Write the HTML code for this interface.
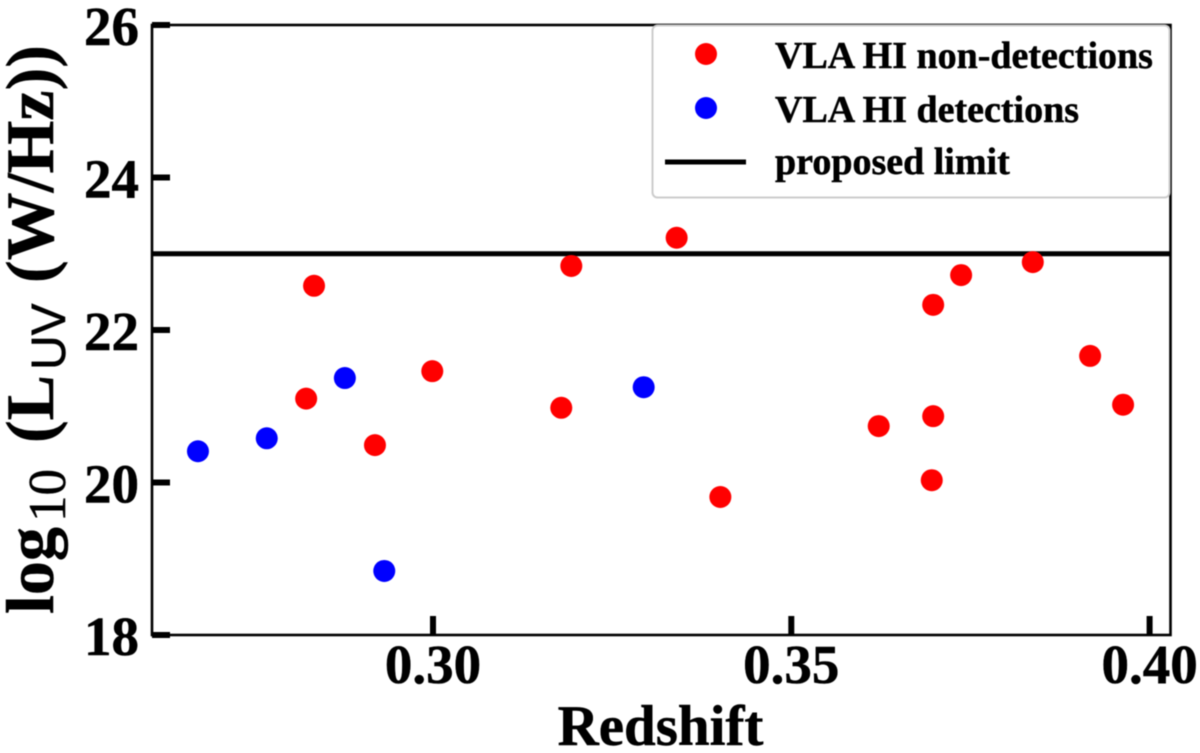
<!DOCTYPE html>
<html>
<head>
<meta charset="utf-8">
<title>Redshift vs UV luminosity</title>
<style>
html,body{margin:0;padding:0;background:#fff;width:1200px;height:753px;overflow:hidden}
svg{display:block;filter:blur(0.4px)}
text{font-family:"Liberation Serif",serif;font-weight:bold;fill:#000;stroke:#000;stroke-width:0.5px}
</style>
</head>
<body>
<svg id="chart" width="1200" height="753" viewBox="0 0 1200 753" xmlns="http://www.w3.org/2000/svg">
  <rect x="0" y="0" width="1200" height="753" fill="#fff"/>
  <g id="limit"></g>
  <g id="spines" stroke="#000" stroke-width="2.6" fill="none">
    <rect x="152" y="25" width="1018.5" height="610"/>
  </g>
  <g id="ticks"></g>
  <g id="points"></g>
  <text x="660.5" y="745" font-size="57" text-anchor="middle">Redshift</text>
  <text transform="translate(53,614) rotate(-90)" font-size="68">
    <tspan x="0">log</tspan><tspan x="92" y="12" font-size="53" style="font-weight:normal">10</tspan><tspan x="171" y="0">(L</tspan><tspan x="244" y="12" font-size="48" style="font-family:'Liberation Sans',sans-serif;font-weight:normal">UV</tspan><tspan x="331" y="0">(W/Hz))</tspan>
  </text>
  <g>
    <rect x="652.5" y="25.5" width="517" height="172" rx="5" ry="5" fill="#fff" fill-opacity="0.85" stroke="#ccc" stroke-width="2"/>
    <circle cx="706" cy="54" r="11" fill="#ff0000"/>
    <text x="775" y="68" font-size="38">VLA HI non-detections</text>
    <circle cx="706" cy="108" r="11" fill="#0000ff"/>
    <text x="775" y="122" font-size="38">VLA HI detections</text>
    <line x1="665" y1="162" x2="746" y2="162" stroke="#000" stroke-width="5"/>
    <text x="775" y="174" font-size="38">proposed limit</text>
  </g>
</svg>
<script>
const xTickValues = [0.30, 0.35, 0.40];
const xTickLabels = ["0.30", "0.35", "0.40"];
const yTickValues = [18, 20, 22, 24, 26];
const yTickLabels = ["18", "20", "22", "24", "26"];
const limitValue = 23;
const nonDetectionZ = [0.2834, 0.2823, 0.2919, 0.2999, 0.3179, 0.3193, 0.3340, 0.3401, 0.3622, 0.3698, 0.3696, 0.3698, 0.3737, 0.3837, 0.3917, 0.3963];
const nonDetectionL = [22.58, 21.10, 20.49, 21.46, 20.98, 22.84, 23.21, 19.81, 20.74, 20.87, 20.03, 22.33, 22.72, 22.89, 21.66, 21.02];
const detectionZ = [0.2672, 0.2768, 0.2877, 0.2932, 0.3294];
const detectionL = [20.41, 20.58, 21.37, 18.84, 21.25];

const NS = 'http://www.w3.org/2000/svg';
const plotLeft = 152, plotRight = 1170.5, plotTop = 25, plotBottom = 635;
function xScale(z) { return 433 + (z - 0.30) * 7166; }
function yScale(v) { return plotBottom - (v - 18) * (plotBottom - plotTop) / 8; }
function make(tag, attrs, parent, txt) {
  const el = document.createElementNS(NS, tag);
  for (const k in attrs) el.setAttribute(k, attrs[k]);
  if (txt !== undefined) el.textContent = txt;
  parent.appendChild(el);
  return el;
}
const ticksG = document.getElementById('ticks');
xTickValues.forEach(function (v, i) {
  const x = xScale(v);
  const t = make('line', { x1: x, x2: x, y1: plotBottom, y2: plotBottom - 19, stroke: '#000', 'stroke-width': 6 }, ticksG);
  
  
  const l = make('text', { x: x, y: 683, 'font-size': 55, 'text-anchor': 'middle' }, ticksG, xTickLabels[i]);
  
  
});
yTickValues.forEach(function (v, i) {
  const y = yScale(v);
  const t = make('line', { x1: plotLeft, x2: plotLeft + 18, y1: y, y2: y, stroke: '#000', 'stroke-width': 6 }, ticksG);
  
  
  const l = make('text', { x: 139, y: y + 20, 'font-size': 55, 'text-anchor': 'end' }, ticksG, yTickLabels[i]);
  
  
});
const limitG = document.getElementById('limit');
const limitLine = make('line', { x1: plotLeft, x2: plotRight, y1: yScale(limitValue), y2: yScale(limitValue), stroke: '#000', 'stroke-width': 5 }, limitG);


const pointsG = document.getElementById('points');
nonDetectionZ.forEach(function (z, i) {
  const c = make('circle', { cx: xScale(z), cy: yScale(nonDetectionL[i]), r: 11, fill: '#ff0000' }, pointsG);
  
  
});
detectionZ.forEach(function (z, i) {
  const c = make('circle', { cx: xScale(z), cy: yScale(detectionL[i]), r: 11, fill: '#0000ff' }, pointsG);
  
  
});
</script>
</body>
</html>
